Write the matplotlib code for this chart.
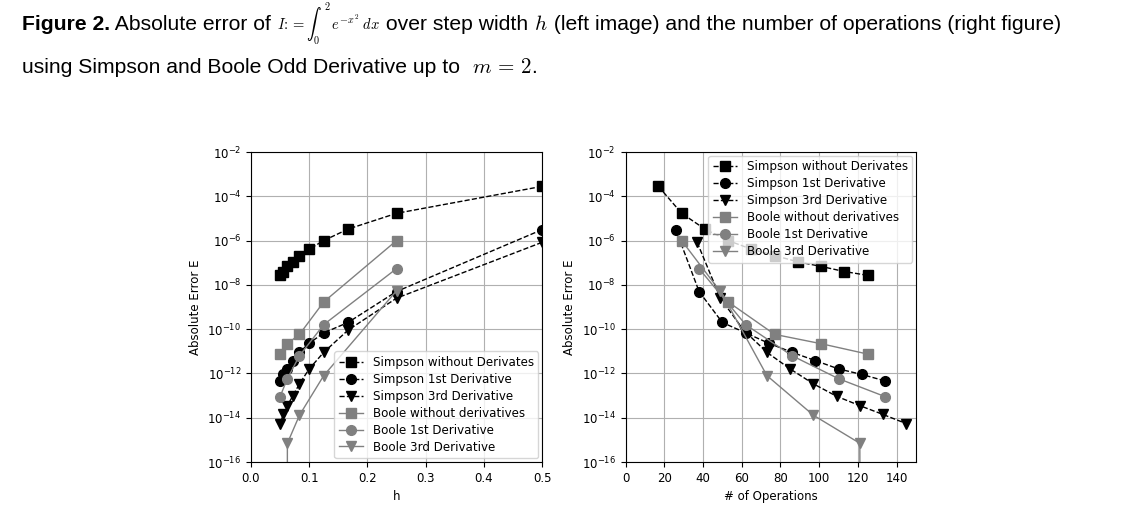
import numpy as np
import matplotlib
matplotlib.use("Agg")
import matplotlib.pyplot as plt

# step widths
h_simpson = [0.5, 0.25, 0.1667, 0.125, 0.1, 0.0833, 0.0714, 0.0625, 0.0556, 0.05]
h_boole = [0.25, 0.125, 0.0833, 0.0625, 0.05]

# number of operations
ops_simpson_none = [17, 29, 41, 53, 65, 77, 89, 101, 113, 125]
ops_simpson_1st = [26, 38, 50, 62, 74, 86, 98, 110, 122, 134]
ops_simpson_3rd = [37, 49, 61, 73, 85, 97, 109, 121, 133, 145]
ops_boole_none = [29, 53, 77, 101, 125]
ops_boole_1st = [38, 62, 86, 110, 134]
ops_boole_3rd = [49, 73, 97, 121, 145]

# absolute errors
err_simpson_none = [2.8e-4, 1.7e-5, 3.3e-6, 1.0e-6, 4.1e-7, 2.1e-7, 1.1e-7, 6.8e-8, 4.0e-8, 2.7e-8]
err_simpson_1st = [3.1e-6, 5e-9, 2e-10, 6.8e-11, 2.3e-11, 9e-12, 3.8e-12, 1.6e-12, 9e-13, 4.6e-13]
err_simpson_3rd = [8.3e-7, 2.5e-9, 9e-11, 9e-12, 1.6e-12, 3.4e-13, 9.3e-14, 3.5e-14, 1.4e-14, 5.4e-15]
err_boole_none = [1.0e-6, 1.7e-9, 5.8e-11, 2.2e-11, 7.5e-12]
err_boole_1st = [5.4e-8, 1.6e-10, 6.3e-12, 5.8e-13, 9e-14]
err_boole_3rd = [5.4e-9, 8e-13, 1.3e-14, 7e-16, 0.0]

labels = ['Simpson without Derivates', 'Simpson 1st Derivative', 'Simpson 3rd Derivative',
          'Boole without derivatives', 'Boole 1st Derivative', 'Boole 3rd Derivative']
markers = ['s', 'o', 'v', 's', 'o', 'v']

plt.rcParams['mathtext.fontset'] = 'cm'

W, H = 1126, 513
fig = plt.figure(figsize=(W / 100, H / 100), dpi=100)

# caption, placed piece by piece
cap_font = ['Liberation Sans', 'DejaVu Sans']
fs = 15.2


def caption_line(pieces, x, y):
    for text, size, weight in pieces:
        t = fig.text(x / W, 1 - y / H, text, fontsize=size, fontweight=weight,
                     family=cap_font, va='baseline', ha='left')
        fig.canvas.draw()
        x = t.get_window_extent().x1


caption_line([('Figure 2.', fs, 'bold'),
              (' Absolute error of ', fs, 'normal'),
              (r'$I\!:=\int_0^{\,2}\,e^{-x^2}\;dx$', 10.5, 'normal'),
              (' over step width ', fs, 'normal'),
              (r'$h$', fs, 'normal'),
              (' (left image) and the number of operations (right figure)', fs, 'normal')],
             22, 30)
caption_line([('using Simpson and Boole Odd Derivative up to  ', fs, 'normal'),
              (r'$m\,=\,2$', fs, 'normal'),
              ('.', fs, 'normal')],
             22, 73)


def style(ax):
    ax.set_yscale('log')
    ax.set_ylim(1e-16, 1e-2)
    ax.set_yticks(10.0 ** np.arange(-16, -1, 2))
    ax.minorticks_off()
    ax.grid(True, color='#b0b0b0', linewidth=0.8)
    ax.tick_params(labelsize=8.5)
    ax.set_ylabel('Absolute Error E', fontsize=8.5)


def draw(ax, xs, ys):
    for i, (x, y) in enumerate(zip(xs, ys)):
        if i < 3:
            ax.plot(x, y, '--', color='black', marker=markers[i], markersize=7,
                    linewidth=1, label=labels[i])
        else:
            ax.plot(x, y, '-', color='gray', marker=markers[i], markersize=7,
                    linewidth=1, label=labels[i])


ax1 = fig.add_axes([251 / W, 51 / H, 291 / W, 310 / H])
draw(ax1, [h_simpson, h_simpson, h_simpson, h_boole, h_boole, h_boole],
     [err_simpson_none, err_simpson_1st, err_simpson_3rd,
      err_boole_none, err_boole_1st, err_boole_3rd])
style(ax1)
ax1.set_xlim(0, 0.5)
ax1.set_xlabel('h', fontsize=8.5)
ax1.legend(loc='lower right', fontsize=8.6, borderaxespad=0.3, labelspacing=0.33)

ax2 = fig.add_axes([625.5 / W, 51 / H, 290.5 / W, 310 / H])
draw(ax2, [ops_simpson_none, ops_simpson_1st, ops_simpson_3rd,
           ops_boole_none, ops_boole_1st, ops_boole_3rd],
     [err_simpson_none, err_simpson_1st, err_simpson_3rd,
      err_boole_none, err_boole_1st, err_boole_3rd])
style(ax2)
ax2.set_xlim(0, 150)
ax2.set_xticks(np.arange(0, 141, 20))
ax2.set_xlabel('# of Operations', fontsize=8.5)
ax2.legend(loc='upper right', fontsize=8.6, borderaxespad=0.3, labelspacing=0.33)

fig.savefig('out.png', dpi=100)
